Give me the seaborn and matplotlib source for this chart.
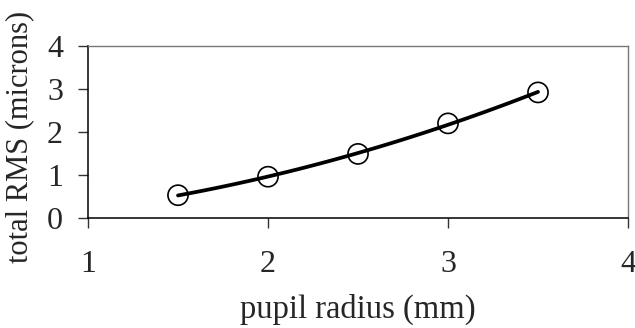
import numpy as np
import pandas as pd
import matplotlib
matplotlib.use("Agg")
import matplotlib.pyplot as plt
import seaborn as sns

# values
pupil_radius = [1.5, 2.0, 2.5, 3.0, 3.5]
total_rms = [0.53, 0.96, 1.49, 2.20, 2.92]
x_ticks = [1, 2, 3, 4]
y_ticks = [0, 1, 2, 3, 4]

sns.set_style("ticks")
plt.rcParams["font.family"] = ["Liberation Serif", "DejaVu Serif"]

df = pd.DataFrame({"radius": pupil_radius, "rms": total_rms})

# smooth trend line (quadratic fit through the measured points)
coef = np.polyfit(df["radius"], df["rms"], 2)
xs = np.linspace(min(pupil_radius), max(pupil_radius), 100)
fit = pd.DataFrame({"radius": xs, "rms": np.polyval(coef, xs)})

fig = plt.figure(figsize=(6.35, 3.28), dpi=100)
ax = fig.add_axes([0.1386, 0.3354, 0.8504, 0.5244])

sns.lineplot(data=fit, x="radius", y="rms", ax=ax, color="black", linewidth=2.7)
sns.scatterplot(data=df, x="radius", y="rms", ax=ax, s=210, marker="o",
                facecolor="none", edgecolor="black", linewidth=1.2, zorder=3)

ax.set_xlim(1, 4)
ax.set_ylim(0, 4)
ax.set_xticks(x_ticks)
ax.set_yticks(y_ticks)
ax.tick_params(axis="both", labelsize=23, length=7, width=1, direction="out",
               color="#333333")
ax.tick_params(axis="x", pad=16)
ax.tick_params(axis="y", pad=11)

for side in ["left", "bottom"]:
    ax.spines[side].set_color("black")
    ax.spines[side].set_linewidth(1.1)
for side in ["top", "right"]:
    ax.spines[side].set_visible(True)
    ax.spines[side].set_color("#777777")
    ax.spines[side].set_linewidth(1.0)

ax.set_xlabel("pupil radius (mm)", fontsize=23.5, labelpad=11)
ax.set_ylabel("total RMS (microns)", fontsize=22)
ax.yaxis.set_label_coords(-0.10, 0.47)

fig.savefig("out.png", dpi=100)
